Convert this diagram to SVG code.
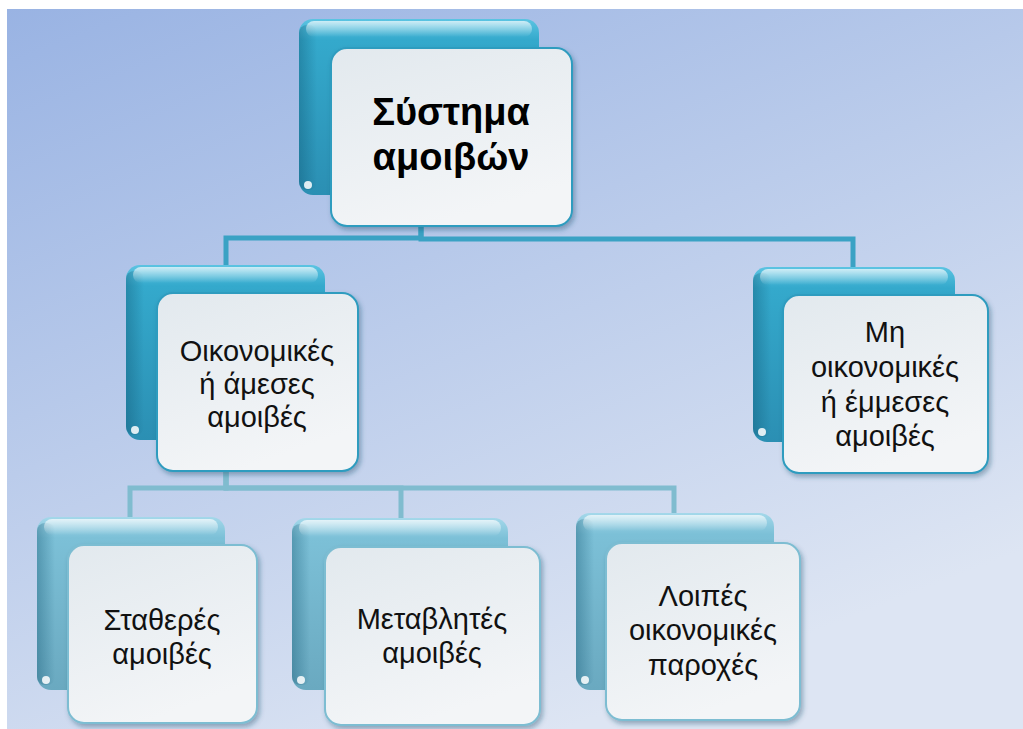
<svg xmlns="http://www.w3.org/2000/svg" width="1023" height="729" viewBox="0 0 1023 729">
<style>
.lbl{font-family:"Liberation Sans",Arial,sans-serif;font-size:29px;fill:#111;text-anchor:middle}
.ttl{font-family:"Liberation Sans",Arial,sans-serif;font-size:38px;font-weight:bold;fill:#000;text-anchor:middle}
.back1{fill:url(#gBack1)}
.back2{fill:url(#gBack2)}
.shine{fill:url(#gShine)}
.edge{fill:url(#gEdge)}
.dot{fill:#ffffff;opacity:0.85}
.front1{fill:url(#gFront);stroke:#2f9cbf;stroke-width:2;filter:url(#shadow)}
.front2{fill:url(#gFront);stroke:#7dbdd2;stroke-width:2;filter:url(#shadow)}
.c1{fill:none;stroke:#3aa2c4;stroke-width:5}
.c2{fill:none;stroke:#80bccf;stroke-width:5}
</style>
<defs>
<linearGradient id="gBg" x1="0" y1="0" x2="0.55" y2="1">
<stop offset="0" stop-color="#99b3e3"/>
<stop offset="1" stop-color="#dde5f3"/>
</linearGradient>
<linearGradient id="gBack1" x1="0" y1="0" x2="0" y2="1">
<stop offset="0" stop-color="#5cc4e2"/>
<stop offset="0.12" stop-color="#34a9cc"/>
<stop offset="1" stop-color="#2b8fb3"/>
</linearGradient>
<linearGradient id="gBack2" x1="0" y1="0" x2="0" y2="1">
<stop offset="0" stop-color="#a4d8ea"/>
<stop offset="0.12" stop-color="#7cc0d7"/>
<stop offset="1" stop-color="#6aa9c0"/>
</linearGradient>
<linearGradient id="gShine" x1="0" y1="0" x2="0" y2="1">
<stop offset="0" stop-color="#ffffff" stop-opacity="0.7"/>
<stop offset="1" stop-color="#ffffff" stop-opacity="0"/>
</linearGradient>
<linearGradient id="gEdge" x1="0" y1="0" x2="1" y2="0">
<stop offset="0" stop-color="#0b4f6b" stop-opacity="0.35"/>
<stop offset="1" stop-color="#0b4f6b" stop-opacity="0"/>
</linearGradient>
<linearGradient id="gFront" x1="0" y1="0" x2="0.4" y2="1">
<stop offset="0" stop-color="#e2e9ee"/>
<stop offset="1" stop-color="#f3f5f7"/>
</linearGradient>
<filter id="shadow" x="-10%" y="-10%" width="125%" height="125%">
<feDropShadow dx="2" dy="3" stdDeviation="2.5" flood-color="#1c4a66" flood-opacity="0.4"/>
</filter>
</defs>
<rect x="7" y="9" width="1016" height="720" fill="url(#gBg)"/>
<g id="connectors">
<path class="c1" d="M421,200 V238 H226 V267"/>
<path class="c1" d="M421,200 V239 H853 V269"/>
<path class="c2" d="M226,460 V488 H130 V519"/>
<path class="c2" d="M226,460 V488 H401 V520"/>
<path class="c2" d="M226,460 V488 H674 V515"/>
</g>
<g id="node-root">
<rect class="back1" x="299" y="19" width="240" height="176" rx="14"/>
<rect class="edge" x="299" y="25" width="18" height="165" rx="8"/>
<rect class="shine" x="306" y="21" width="226" height="16" rx="8"/>
<circle class="dot" cx="308" cy="185" r="4"/>
<rect class="front1" x="331" y="48" width="241" height="178" rx="16"/>
<text class="ttl" x="451" y="125">Σύστημα</text>
<text class="ttl" x="451" y="170">αμοιβών</text>
</g>
<g id="node-direct">
<rect class="back1" x="126" y="265" width="199" height="175" rx="14"/>
<rect class="edge" x="126" y="271" width="18" height="164" rx="8"/>
<rect class="shine" x="133" y="267" width="185" height="16" rx="8"/>
<circle class="dot" cx="135" cy="430" r="4"/>
<rect class="front1" x="157" y="293" width="201" height="178" rx="16"/>
<text class="lbl" x="257" y="361">Οικονομικές</text>
<text class="lbl" x="257" y="394">ή άμεσες</text>
<text class="lbl" x="257" y="427">αμοιβές</text>
</g>
<g id="node-indirect">
<rect class="back1" x="753" y="267" width="202" height="175" rx="14"/>
<rect class="edge" x="753" y="273" width="18" height="164" rx="8"/>
<rect class="shine" x="760" y="269" width="188" height="16" rx="8"/>
<circle class="dot" cx="762" cy="432" r="4"/>
<rect class="front1" x="783" y="295" width="205" height="178" rx="16"/>
<text class="lbl" x="885" y="342">Μη</text>
<text class="lbl" x="885" y="377">οικονομικές</text>
<text class="lbl" x="885" y="412">ή έμμεσες</text>
<text class="lbl" x="885" y="446">αμοιβές</text>
</g>
<g id="node-fixed">
<rect class="back2" x="37" y="517" width="188" height="173" rx="14"/>
<rect class="edge" x="37" y="523" width="18" height="162" rx="8"/>
<rect class="shine" x="44" y="519" width="174" height="16" rx="8"/>
<circle class="dot" cx="46" cy="680" r="4"/>
<rect class="front2" x="68" y="545" width="189" height="178" rx="16"/>
<text class="lbl" x="162" y="630">Σταθερές</text>
<text class="lbl" x="162" y="664">αμοιβές</text>
</g>
<g id="node-variable">
<rect class="back2" x="292" y="518" width="216" height="172" rx="14"/>
<rect class="edge" x="292" y="524" width="18" height="161" rx="8"/>
<rect class="shine" x="299" y="520" width="202" height="16" rx="8"/>
<circle class="dot" cx="301" cy="680" r="4"/>
<rect class="front2" x="325" y="547" width="215" height="178" rx="16"/>
<text class="lbl" x="432" y="629">Μεταβλητές</text>
<text class="lbl" x="432" y="663">αμοιβές</text>
</g>
<g id="node-other">
<rect class="back2" x="576" y="513" width="198" height="177" rx="14"/>
<rect class="edge" x="576" y="519" width="18" height="166" rx="8"/>
<rect class="shine" x="583" y="515" width="184" height="16" rx="8"/>
<circle class="dot" cx="585" cy="680" r="4"/>
<rect class="front2" x="606" y="543" width="194" height="177" rx="16"/>
<text class="lbl" x="703" y="606">Λοιπές</text>
<text class="lbl" x="703" y="640">οικονομικές</text>
<text class="lbl" x="703" y="675">παροχές</text>
</g>
</svg>
